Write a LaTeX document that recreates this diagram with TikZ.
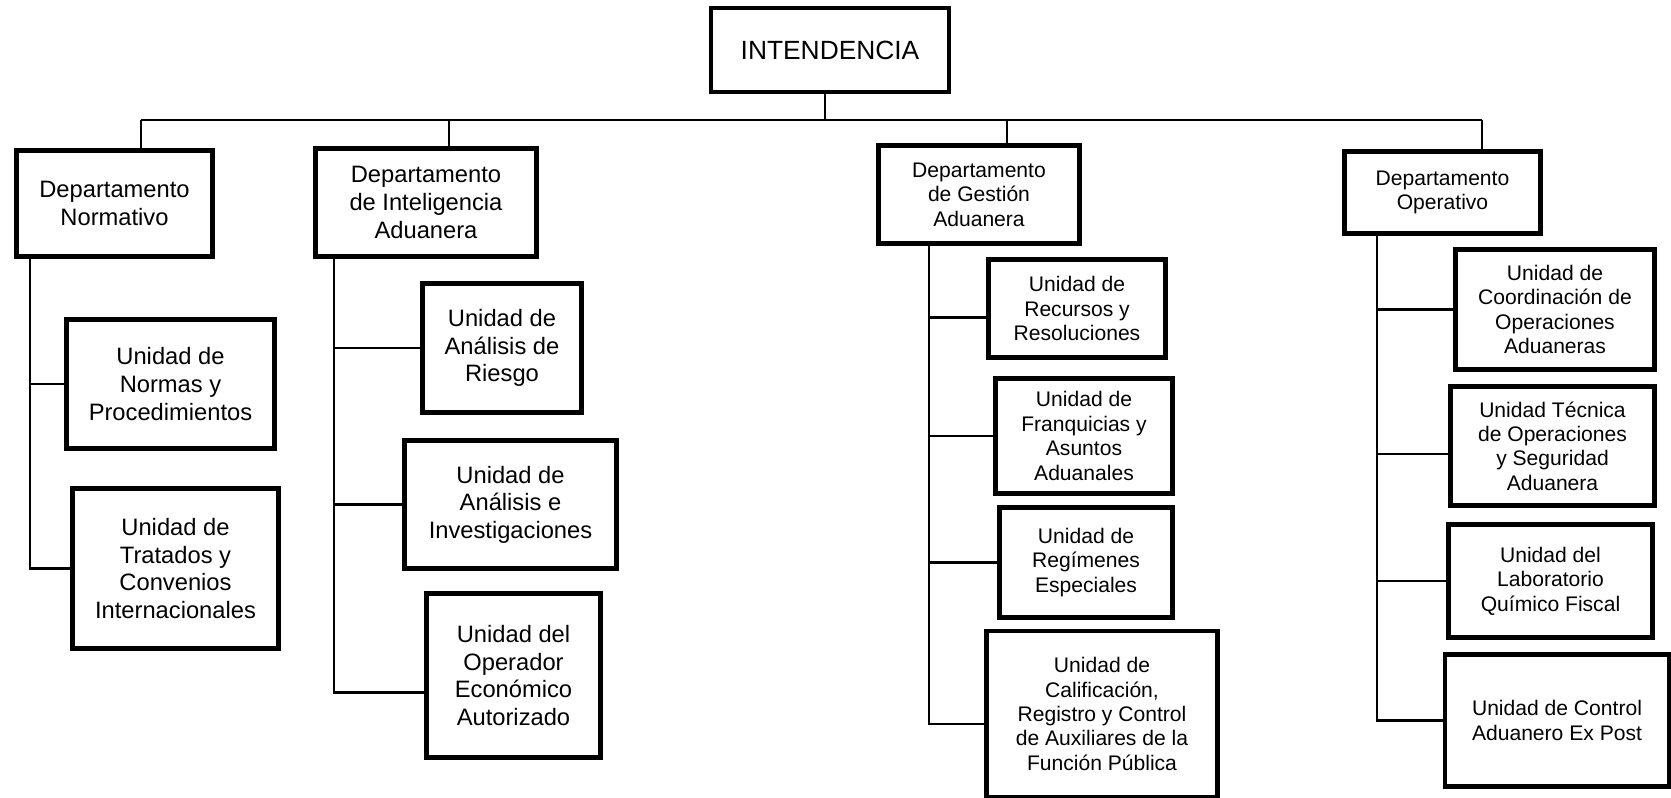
\documentclass[tikz,border=0pt]{standalone}
\usepackage{fontspec}
\setmainfont{Liberation Sans}
\tikzset{box/.style={draw, line width=2.8pt, align=center, inner sep=2pt}}
\tikzset{sz/.style 2 args={minimum width=#1*0.02cm, minimum height=#2*0.02cm}}
\tikzset{big/.style={font=\fontsize{13.5}{15.7}\selectfont}}
\tikzset{small/.style={font=\fontsize{12}{13.9}\selectfont}}
\tikzset{link/.style={line width=1.3pt}}

\begin{document}
\begin{tikzpicture}[x=0.02cm,y=-0.02cm]
		\useasboundingbox (0,0) rectangle (1671,798);
		% head and departments
		\node[box, sz={238}{84}, font=\fontsize{15}{18}\selectfont] (int) at (830,50) {INTENDENCIA};
		\node[box, big, sz={196}{106}] (nor) at (114.5,203.5) {Departamento\\Normativo};
		\node[box, big, sz={221}{108}] (dia) at (426,202.5) {Departamento\\de Inteligencia\\Aduanera};
		\node[box, small, sz={201}{98}] (dga) at (979,194.5) {Departamento\\de Gestión\\Aduanera};
		\node[box, small, sz={196}{82}] (do) at (1442.5,192.5) {Departamento\\Operativo};
		% units
		\node[box, big, sz={208}{129}] (nor1) at (170.5,384) {Unidad de\\Normas y\\Procedimientos};
		\node[box, big, sz={206}{160}] (nor2) at (175.5,568.5) {Unidad de\\Tratados y\\Convenios\\Internacionales};
		\node[box, big, sz={159}{129}] (dia1) at (502,348) {Unidad de\\Análisis de\\Riesgo};
		\node[box, big, sz={212}{128}] (dia2) at (510.5,504.5) {Unidad de\\Análisis e\\Investigaciones};
		\node[box, big, sz={174}{164}] (dia3) at (513.5,675.5) {Unidad del\\Operador\\Económico\\Autorizado};
		\node[box, small, sz={177}{98}] (dga1) at (1077,308.5) {Unidad de\\Recursos y\\Resoluciones};
		\node[box, small, sz={177}{115}] (dga2) at (1084,436) {Unidad de\\Franquicias y\\Asuntos\\Aduanales};
		\node[box, small, sz={173}{110}] (dga3) at (1086,562.5) {Unidad de\\Regímenes\\Especiales};
		\node[box, small, sz={231}{166}] (dga4) at (1102,714) {Unidad de\\Calificación,\\Registro y Control\\de Auxiliares de la\\Función Pública};
		\node[box, small, sz={199}{120}] (do1) at (1555,309.5) {Unidad de\\Coordinación de\\Operaciones\\Aduaneras};
		\node[box, small, sz={204}{119}] (do2) at (1552.5,446) {Unidad Técnica\\de Operaciones\\y Seguridad\\Aduanera};
		\node[box, small, sz={204}{113}] (do3) at (1550.5,581) {Unidad del\\Laboratorio\\Químico Fiscal};
		\node[box, small, sz={224}{132}] (do4) at (1557,720.5) {Unidad de Control\\Aduanero Ex Post};
		% bus
		\coordinate (bus1) at (141,120);
		\coordinate (bus2) at (449,120);
		\coordinate (bus3) at (1007,120);
		\coordinate (bus4) at (1482,120);
		\draw[link] (bus1) -- (bus4);
		\draw[link] ([xshift=-0.1cm]int.south) -- ([xshift=-0.1cm]int.south |- bus1);
		\draw[link] (bus1) -- (bus1 |- nor.north);
		\draw[link] (bus2) -- (bus2 |- dia.north);
		\draw[link] (bus3) -- (bus3 |- dga.north);
		\draw[link] (bus4) -- (bus4 |- do.north);
		% side lines
		\coordinate (vnor) at (30,0);
		\coordinate (vdia) at (334,0);
		\coordinate (vdga) at (929,0);
		\coordinate (vdo) at (1377,0);
		\coordinate (t13) at ([yshift=-0.34cm]dia3.west);
		\coordinate (t21) at ([yshift=-0.18cm]dga1.west);
		\coordinate (t24) at ([yshift=-0.2cm]dga4.west);
		\coordinate (t32) at ([yshift=-0.16cm]do2.west);
		\draw[link] (vnor |- nor.south) |- (nor2.west);
		\draw[link] (vnor |- nor1.west) -- (nor1.west);
		\draw[link] (vdia |- dia.south) |- (t13);
		\draw[link] (vdia |- dia1.west) -- (dia1.west);
		\draw[link] (vdia |- dia2.west) -- (dia2.west);
		\draw[link] (vdga |- dga.south) |- (t24);
		\draw[link] (vdga |- t21) -- (t21);
		\draw[link] (vdga |- dga2.west) -- (dga2.west);
		\draw[link] (vdga |- dga3.west) -- (dga3.west);
		\draw[link] (vdo |- do.south) |- (do4.west);
		\draw[link] (vdo |- do1.west) -- (do1.west);
		\draw[link] (vdo |- t32) -- (t32);
		\draw[link] (vdo |- do3.west) -- (do3.west);
\end{tikzpicture}
\end{document}
